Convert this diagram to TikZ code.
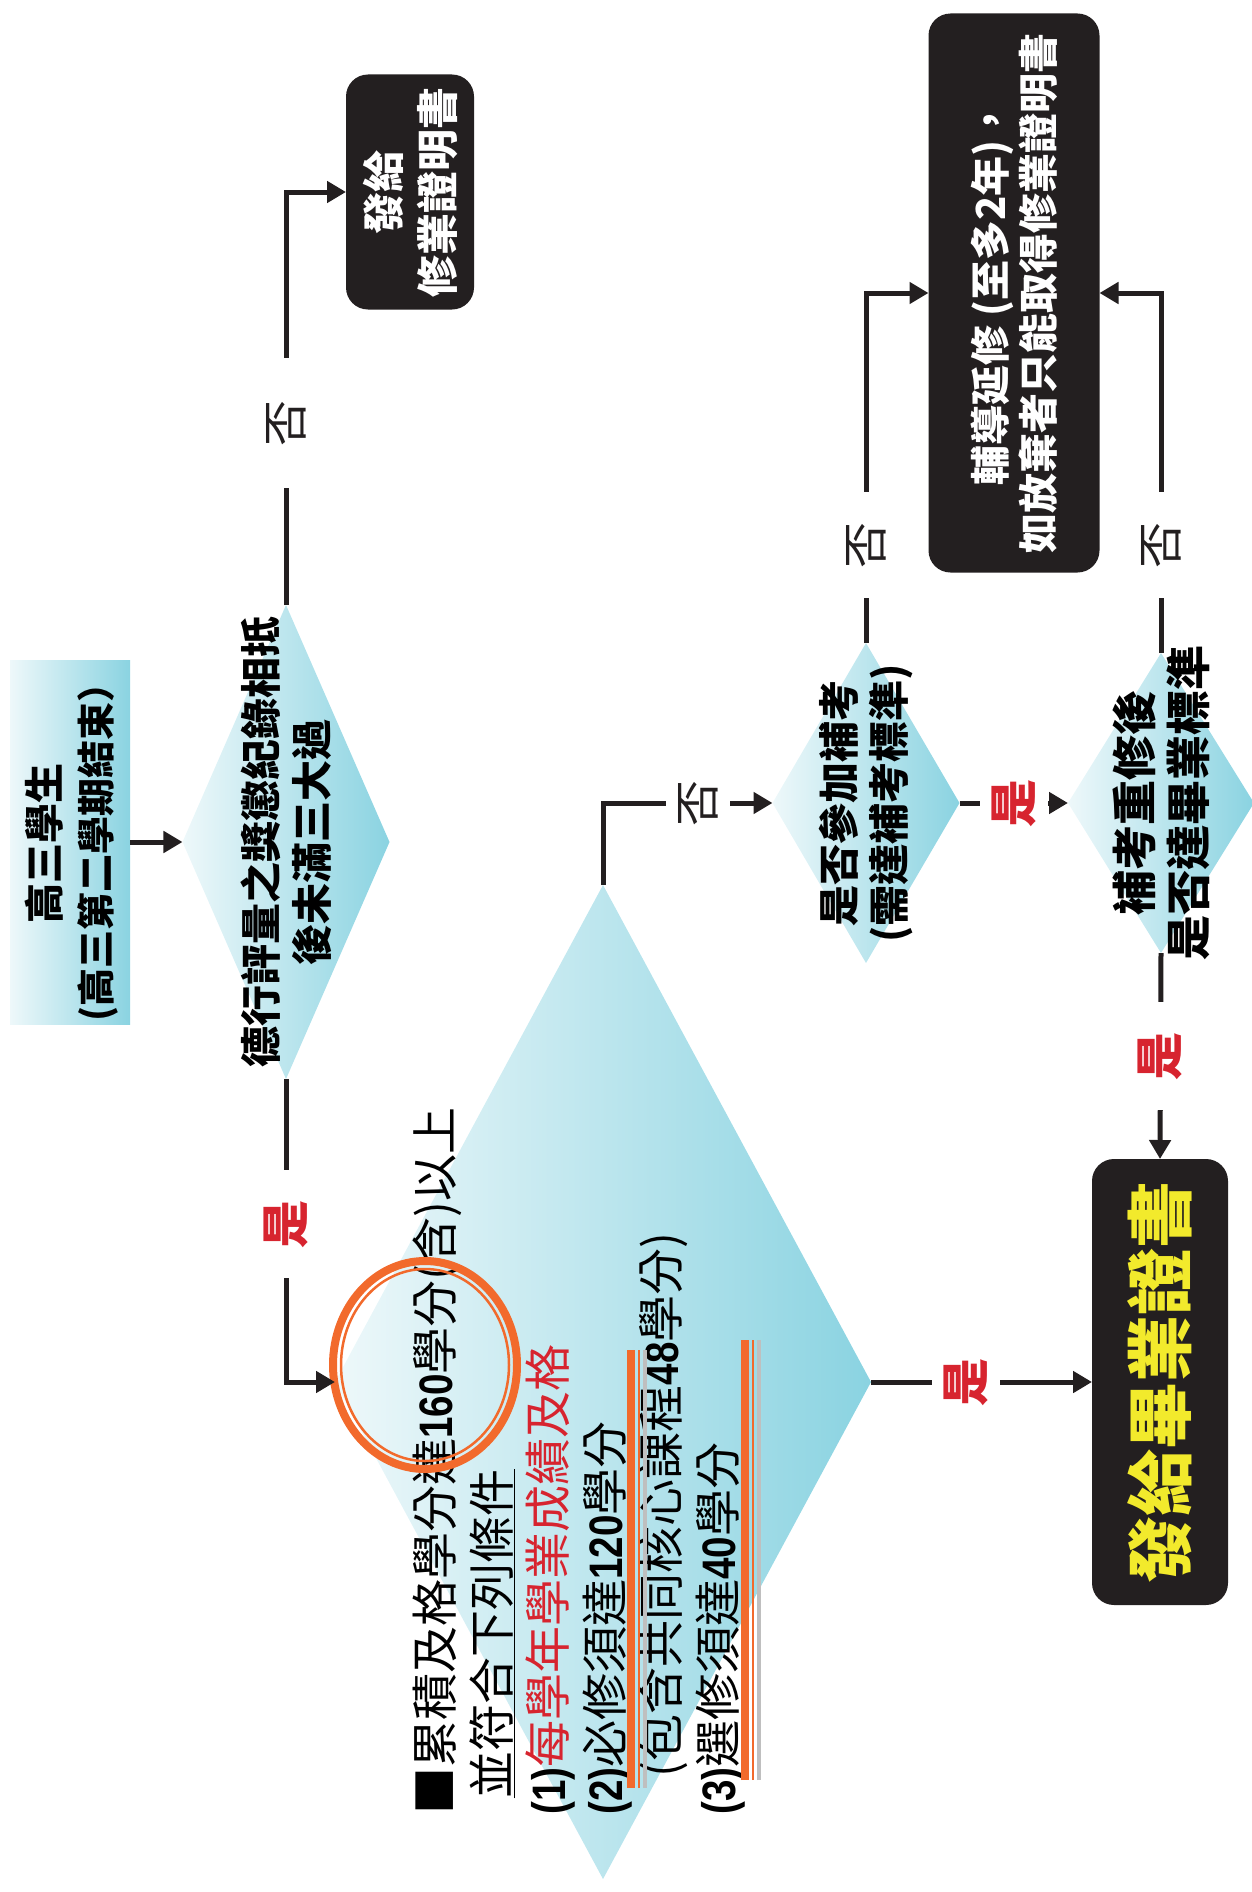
\documentclass[tikz,border=0pt]{standalone}
\usepackage{fontspec}
\newfontfamily\cjk{Noto Sans CJK TC}
\newfontfamily\numf{Liberation Sans}[FakeStretch=0.82]
\usetikzlibrary{shapes.geometric,arrows.meta,positioning}
\definecolor{ink}{HTML}{231F20}
\definecolor{pale}{HTML}{EEF8FA}
\definecolor{aqua}{HTML}{8AD3E1}
\definecolor{hired}{HTML}{D7242F}
\definecolor{orng}{HTML}{F26A2C}
\definecolor{yel}{HTML}{F2EA2C}
\newcommand{\fsz}[2]{\fontsize{#1}{#2}\selectfont}
\tikzset{
	flow/.style={draw=ink,line width=5pt},
	arr/.style={flow,-{Triangle[length=19pt,width=21pt]}},
	ans/.style={fill=white,inner xsep=30pt,inner ysep=12pt,rotate=90,font=\cjk\fsz{46}{48}},
	yes/.style={ans,text=hired,font=\cjk\bfseries\fsz{48}{50}},
	no/.style={ans,text=ink},
	dia/.style 2 args={diamond,minimum width=#1,minimum height=#2,inner sep=0pt,outer sep=0pt,left color=pale,right color=aqua},
	blk/.style 2 args={rectangle,rounded corners=22pt,fill=ink,minimum width=#1,minimum height=#2,inner sep=0pt,outer sep=0pt},
	txt/.style={rotate=90,align=center,inner sep=0pt,font=\cjk\bfseries\fsz{36}{50}}
}
\begin{document}
\begin{tikzpicture}[x=1pt,y=-1pt]
\useasboundingbox (0,0) rectangle (1251,1892);

% boxes and questions
\node[rectangle,left color=pale,right color=aqua,minimum width=120pt,minimum height=364pt,inner sep=0pt,outer sep=0pt] (start) at (70,842) {};
\node[txt,font=\cjk\bfseries\fsz{38}{51}] at (72,843) {{\fsz{40}{51}高三學生}\\(高三第二學期結束）};

\node[dia={207pt}{474pt}] (d1) at (286,842) {};
\node[txt,font=\cjk\bfseries\fsz{41}{51}] at (d1) {德行評量之獎懲紀錄相抵\\後未滿三大過};

\node[blk={128pt}{235pt}] (cert) at (410,192) {};
\node[txt,text=white,font=\cjk\bfseries\fsz{42}{54}] at (cert) {發給\\修業證明書};

\node[dia={536pt}{994pt}] (big) at (603,1382) {};
\node[rotate=90,anchor=north west,align=left,inner sep=0pt,font=\cjk\fsz{47}{56.5}] (rule) at (413,1815)
	{■累積及格學分達{\numf\bfseries 160}學分(含)以上\\
	\hspace*{0.35em}\underline{並符合下列條件}\\
	{\numf\bfseries(1)}\textcolor{hired}{每學年學業成績及格}\\
	{\numf\bfseries(2)}必修須達{\numf\bfseries 120}學分\\
	\hspace*{0.8em}(包含共同核心課程{\numf\bfseries 48}學分)\\
	{\numf\bfseries(3)}選修須達{\numf\bfseries 40}學分};

\node[dia={187pt}{320pt}] (d2) at (866,803) {};
\node[txt,font=\cjk\bfseries\fsz{41}{50}] at (d2) {是否參加補考\\(需達補考標準)};

\node[dia={186pt}{300pt}] (d3) at (1161,803) {};
\node[txt,font=\cjk\bfseries\fsz{45}{54}] at (d3) {補考重修後\\是否達畢業標準};

\node[blk={171pt}{559pt}] (defer) at (1014,293) {};
\node[txt,text=white,font=\cjk\bfseries\fsz{40}{48}] at (defer) {輔導延修 (至多2年)，\\如放棄者只能取得修業證明書};

\node[blk={136pt}{446pt}] (grad) at (1160,1382) {};
\node[txt,text=yel,font=\cjk\bfseries\fsz{67}{67}] at (grad) {發給畢業證書};

% marks on the rule text
\draw[orng,line width=8pt] (425,1365) ellipse [x radius=92,y radius=104];
\draw[orng,line width=2.5pt] (425,1365) ellipse [x radius=84,y radius=96];
\draw[black!25,line width=4pt] (645,1788) -- (645,1350);
\draw[orng,line width=8pt] (631,1788) -- (631,1350);
\draw[orng,line width=2.5pt] (639,1788) -- (639,1350);
\draw[black!25,line width=4pt] (759,1780) -- (759,1340);
\draw[orng,line width=8pt] (745,1780) -- (745,1340);
\draw[orng,line width=2.5pt] (753,1780) -- (753,1340);

% connectors
\draw[arr] (start) -- (d1);
\draw[arr] (d1.north) |- node[no,pos=0.22,inner xsep=42pt]{否} (cert.west);
\draw[arr] (d1.south) |- node[yes,pos=0.24]{是} (big.west);
\draw[arr] (big.north) |- node[no,pos=0.78]{否} (d2.west);
\draw[arr] (d2.east) -- node[yes]{是} (d3.west);
\draw[arr] (d2.north) |- node[no,pos=0.14]{否} (defer.west);
\draw[arr] (d3.north) |- node[no,pos=0.15]{否} (defer.east);
\draw[arr] (d3.south) -- node[yes]{是} (grad.north);
\draw[arr] (big.east) -- node[yes,pos=0.43]{是} (grad.west);
\end{tikzpicture}
\end{document}
